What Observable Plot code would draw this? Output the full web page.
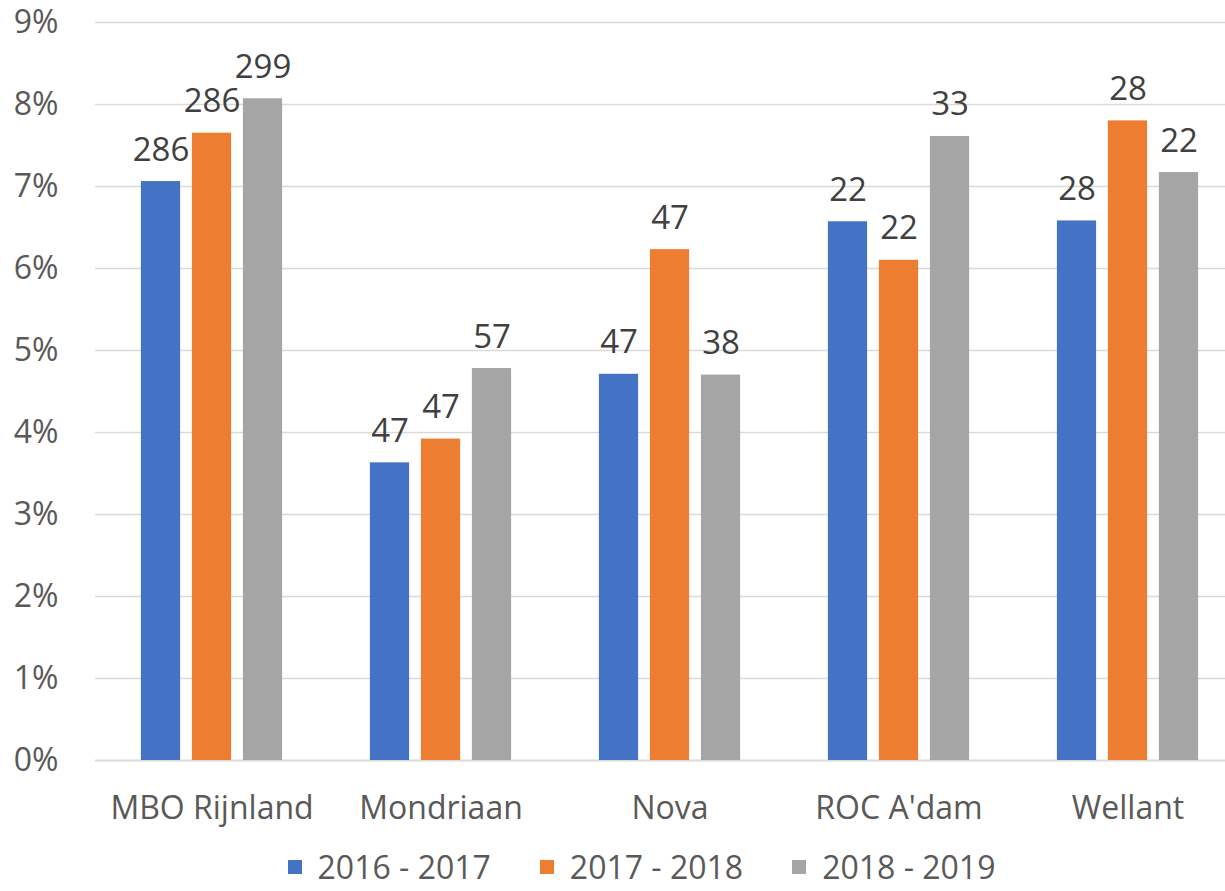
<!DOCTYPE html>
<html>
<head>
<meta charset="utf-8">
<script src="https://cdn.jsdelivr.net/npm/d3@7"></script>
<script src="https://cdn.jsdelivr.net/npm/@observablehq/plot@0.6"></script>
<style>
  html, body { margin: 0; padding: 0; background: #fff; }
  body { width: 1225px; height: 891px; overflow: hidden; font-family: "Open Sans", sans-serif; }
  #legend { display: flex; justify-content: center; align-items: center; gap: 49px; height: 54px; margin-left: 58px;
            font-size: 32px; line-height: 1; color: #595959; }
  #legend .item { display: flex; align-items: center; }
  #legend .sw { width: 14px; height: 14px; margin-right: 16px; }
</style>
</head>
<body>
<div id="chart"></div>
<div id="legend"></div>
<script>
const categories = ["MBO Rijnland", "Mondriaan", "Nova", "ROC A'dam", "Wellant"];
const seriesNames = ["2016 - 2017", "2017 - 2018", "2018 - 2019"];
const colors = ["#4472c4", "#ed7d31", "#a5a5a5"];
// percentages (as fractions)
const values2016 = [0.0706, 0.0363, 0.0471, 0.0657, 0.0658];
const values2017 = [0.0765, 0.0392, 0.0623, 0.0610, 0.0780];
const values2018 = [0.0807, 0.0478, 0.0470, 0.0761, 0.0717];
// data labels (counts)
const labels2016 = [286, 47, 47, 22, 28];
const labels2017 = [286, 47, 47, 22, 28];
const labels2018 = [299, 57, 38, 33, 22];
const yTicks = [0, 0.01, 0.02, 0.03, 0.04, 0.05, 0.06, 0.07, 0.08, 0.09];

const seriesValues = [values2016, values2017, values2018];
const seriesLabels = [labels2016, labels2017, labels2018];

const W = 1225, H = 840;
const xLeft = 95, xRight = 1244; // band range (last band extends past the visible edge)
const band = (xRight - xLeft) / categories.length;
const barW = 40, gap = 11;
const offsets = [-(barW + gap), 0, barW + gap];

const marks = [
  Plot.ruleY(yTicks.slice(1), {stroke: "#d9d9d9", strokeWidth: 1.5}),
  Plot.ruleY([0], {stroke: "#d9d9d9", strokeWidth: 2})
];
seriesNames.forEach((s, i) => {
  const data = categories.map((c, j) => ({category: c, value: seriesValues[i][j], label: seriesLabels[i][j], series: s}));
  const center = band / 2 + offsets[i];
  const insetLeft = center - barW / 2;
  const insetRight = band - insetLeft - barW;
  marks.push(Plot.barY(data, {x: "category", y: "value", fill: colors[i], insetLeft, insetRight}));
  marks.push(Plot.text(data, {x: "category", y: "value", text: "label", dx: offsets[i], dy: -21,
    lineAnchor: "bottom", fill: "#404040", fontSize: 33}));
});

const chart = Plot.plot({
  width: W,
  height: H,
  marginLeft: xLeft,
  marginRight: 0,
  marginTop: 22,
  marginBottom: H - 760,
  style: {fontFamily: "'Open Sans', sans-serif", fontSize: "32px", color: "#595959", background: "white", overflow: "hidden"},
  x: {type: "band", domain: categories, range: [xLeft, xRight], padding: 0, tickSize: 0, tickPadding: 36, label: null},
  y: {domain: [0, 0.09], range: [760, 22], ticks: yTicks, tickFormat: d => Math.round(d * 100) + "%", tickSize: 0, tickPadding: 37, label: null},
  marks
});
document.getElementById("chart").appendChild(chart);

const legend = document.getElementById("legend");
seriesNames.forEach((s, i) => {
  const item = document.createElement("div");
  item.className = "item";
  const sw = document.createElement("span");
  sw.className = "sw";
  sw.style.background = colors[i];
  const t = document.createElement("span");
  t.textContent = s;
  item.appendChild(sw);
  item.appendChild(t);
  legend.appendChild(item);
});
</script>
</body>
</html>
